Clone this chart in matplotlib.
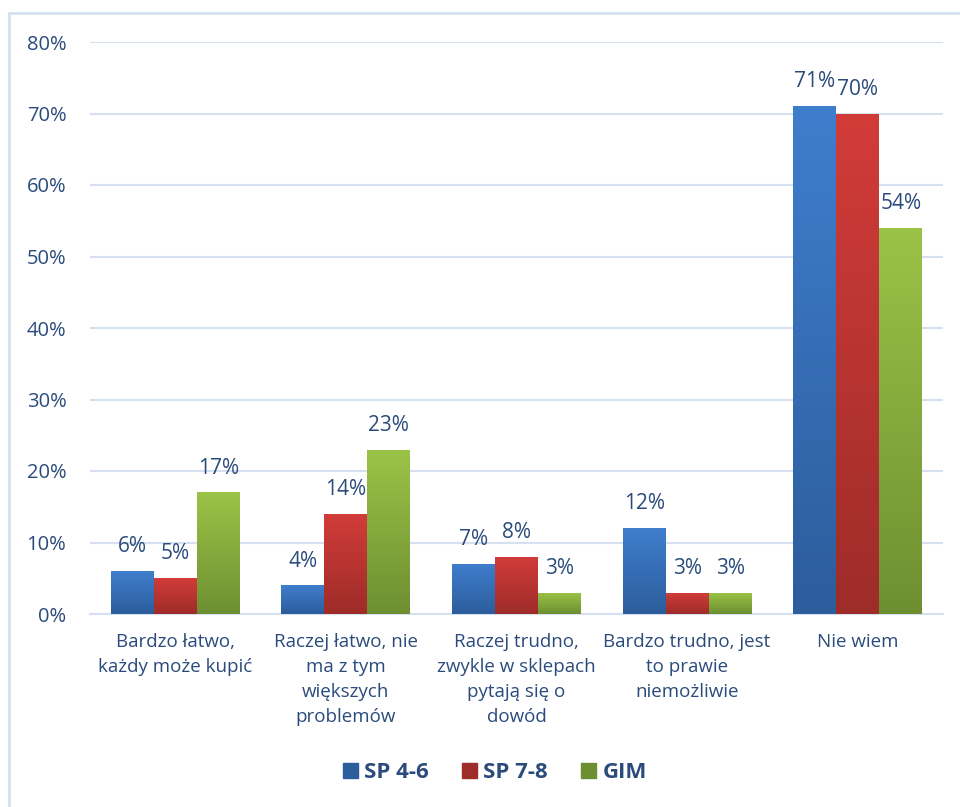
import matplotlib
matplotlib.use("Agg")
import matplotlib.pyplot as plt
import numpy as np
from matplotlib.colors import LinearSegmentedColormap
from matplotlib.patches import Rectangle

CATEGORIES = [
    "Bardzo łatwo,\nkażdy może kupić",
    "Raczej łatwo, nie\nma z tym\nwiększych\nproblemów",
    "Raczej trudno,\nzwykle w sklepach\npytają się o\ndowód",
    "Bardzo trudno, jest\nto prawie\nniemożliwie",
    "Nie wiem",
]
SERIES = ["SP 4-6", "SP 7-8", "GIM"]
SP46 = [6, 4, 7, 12, 71]
SP78 = [5, 14, 8, 3, 70]
GIM = [17, 23, 3, 3, 54]
Y_TICKS = [0, 10, 20, 30, 40, 50, 60, 70, 80]

TEXT_COLOR = "#2A4B7C"
GRID_COLOR = "#D5E1F1"
# (top colour, bottom colour) for each series gradient
GRADIENTS = [("#3F7ECD", "#2C5D9C"), ("#D23C39", "#9E2C29"), ("#9BC347", "#6E8F31")]

plt.rcParams["font.family"] = ["Open Sans", "DejaVu Sans"]

fig = plt.figure(figsize=(9.6, 8.07), dpi=100)
ax = fig.add_axes([90 / 960, 1 - 614 / 807, 853 / 960, 572 / 807])

# light blue frame around the chart, open at right and bottom
fig.patches.append(Rectangle((8.5 / 960, -0.05), 1.1, 1 - 12.5 / 807 + 0.05,
                             transform=fig.transFigure, fill=False,
                             edgecolor=GRID_COLOR, linewidth=2, zorder=0))

x = np.arange(len(CATEGORIES))
width = 0.252
values = [SP46, SP78, GIM]
for i, (name, vals, (top, bottom)) in enumerate(zip(SERIES, values, GRADIENTS)):
    pos = x + (i - 1) * width
    bars = ax.bar(pos, vals, width, color=top, label=name, zorder=2)
    cmap = LinearSegmentedColormap.from_list(name, [bottom, top])
    for bar, v in zip(bars, vals):
        bx, by = bar.get_x(), bar.get_y()
        grad = np.linspace(0, 1, 256).reshape(-1, 1)
        img = ax.imshow(grad, cmap=cmap, origin="lower", aspect="auto",
                        extent=[bx, bx + bar.get_width(), by, by + bar.get_height()],
                        zorder=3)
        img.set_clip_path(bar)
        ax.annotate(f"{v}%", (bar.get_x() + bar.get_width() / 2, v),
                    xytext=(0, 10), textcoords="offset points",
                    ha="center", va="bottom", fontsize=15, color=TEXT_COLOR)

ax.set_xlim(-0.5, len(CATEGORIES) - 0.5)
ax.set_ylim(0, 80)
ax.set_yticks(Y_TICKS)
ax.set_yticklabels([f"{t}%" for t in Y_TICKS])
ax.set_xticks(x)
ax.set_xticklabels(CATEGORIES, fontsize=13.5, linespacing=1.48, va="top")
ax.tick_params(axis="y", length=0, pad=17, labelsize=14.5, labelcolor=TEXT_COLOR)
ax.tick_params(axis="x", length=0, pad=14, labelcolor=TEXT_COLOR)
ax.yaxis.grid(True, color=GRID_COLOR, linewidth=1.5, zorder=0)
ax.set_axisbelow(True)
for side in ["top", "right", "left"]:
    ax.spines[side].set_visible(False)
ax.spines["bottom"].set_color(GRID_COLOR)
ax.spines["bottom"].set_linewidth(1.5)

# legend with plain squares
handles = [Rectangle((0, 0), 1, 1, color=c[1]) for c in GRADIENTS]
leg = fig.legend(handles, SERIES, loc="center", bbox_to_anchor=(495 / 960, 1 - 773 / 807),
                 ncol=3, frameon=False, handlelength=0.65, handleheight=0.65,
                 handletextpad=0.3, columnspacing=1.5,
                 prop={"size": 16, "weight": "bold"})
for t in leg.get_texts():
    t.set_color(TEXT_COLOR)

fig.savefig("out.png", dpi=100)
